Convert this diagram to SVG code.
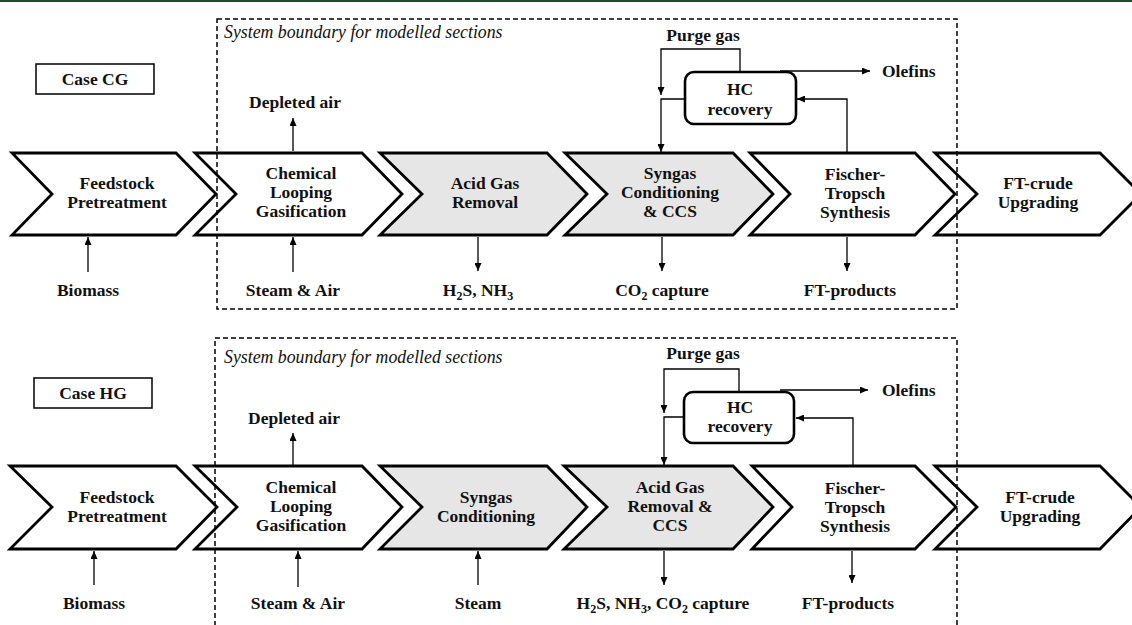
<svg xmlns="http://www.w3.org/2000/svg" width="1132" height="625" viewBox="0 0 1132 625">
<defs>
<marker id="ah" markerUnits="userSpaceOnUse" markerWidth="8" markerHeight="7" refX="8" refY="3.5" orient="auto">
<path d="M0,0 L8,3.5 L0,7 z" fill="#000"/>
</marker>
<style>
.chev{fill:#fff;stroke:#000;stroke-width:2.8;stroke-linejoin:miter}
.grey{fill:#e6e6e6}
.t{font-family:"Liberation Serif","Times New Roman",serif;font-weight:bold;font-size:17.5px;fill:#111;text-anchor:middle}
.ts{text-anchor:start}
.it{font-family:"Liberation Serif","Times New Roman",serif;font-style:italic;font-size:17.8px;fill:#111}
.bound{fill:none;stroke:#000;stroke-width:1.5;stroke-dasharray:5,3}
.case{fill:#fff;stroke:#000;stroke-width:1.5}
.hc{fill:#fff;stroke:#000;stroke-width:2.6}
.c{fill:none;stroke:#000;stroke-width:1.3;marker-end:url(#ah)}
.l{fill:none;stroke:#000;stroke-width:1.3}
</style>
</defs>
<rect x="0" y="0" width="1132" height="2" fill="#1b4d2b"/>
<rect width="1132" height="625" y="2" fill="#fff"/>

<!-- Top row: Case CG -->
<g id="caseCG"><rect class="case" x="36" y="64" width="118" height="30"/><text class="t" x="95" y="85">Case CG</text></g>
<g id="cg-feed"><polygon class="chev" points="12,153 176,153 216,194 176,235 12,235 52,194"/><text class="t" x="117" y="189">Feedstock</text><text class="t" x="117" y="208">Pretreatment</text></g>
<g id="cg-clg"><polygon class="chev" points="195,153 362,153 402,194 362,235 195,235 236,194"/><text class="t" x="301" y="179">Chemical</text><text class="t" x="301" y="198">Looping</text><text class="t" x="301" y="217">Gasification</text></g>
<g id="cg-agr"><polygon class="chev grey" points="380,153 547,153 587,194 547,235 380,235 422,194"/><text class="t" x="485" y="189">Acid Gas</text><text class="t" x="485" y="208">Removal</text></g>
<g id="cg-syn"><polygon class="chev grey" points="565,153 733,153 773,194 733,235 565,235 607,194"/><text class="t" x="670" y="179">Syngas</text><text class="t" x="670" y="198">Conditioning</text><text class="t" x="670" y="217">&amp; CCS</text></g>
<g id="cg-ft"><polygon class="chev" points="750,153 915,153 955,194 915,235 750,235 790,194"/><text class="t" x="855" y="180">Fischer-</text><text class="t" x="855" y="199">Tropsch</text><text class="t" x="855" y="218">Synthesis</text></g>
<g id="cg-up"><polygon class="chev" points="935,153 1100,153 1141,194 1100,235 935,235 977,194"/><text class="t" x="1038" y="189">FT-crude</text><text class="t" x="1038" y="208">Upgrading</text></g>
<g id="cg-hc"><rect class="hc" x="685" y="72" width="111" height="52" rx="9"/><text class="t" x="740" y="95">HC</text><text class="t" x="740" y="115">recovery</text></g>
<g id="cg-boundary"><rect class="bound" x="217" y="19" width="740" height="290"/><text class="it" x="224" y="38">System boundary for modelled sections</text></g>
<g id="cg-labels">
<text class="t" x="295" y="108">Depleted air</text>
<text class="t" x="88" y="296">Biomass</text>
<text class="t" x="293" y="296">Steam &amp; Air</text>
<text class="t" x="478" y="296">H<tspan font-size="12" dy="4">2</tspan><tspan dy="-4">S, NH</tspan><tspan font-size="12" dy="4">3</tspan></text>
<text class="t" x="662" y="296">CO<tspan font-size="12" dy="4">2</tspan><tspan dy="-4"> capture</tspan></text>
<text class="t" x="850" y="296">FT-products</text>
<text class="t" x="703" y="41">Purge gas</text>
<text class="t ts" x="882" y="77">Olefins</text>
</g>
<g id="cg-connectors">
<path class="c" d="M293,151 V118"/>
<path class="c" d="M88,272 V237"/>
<path class="c" d="M293,272 V237"/>
<path class="c" d="M478,237 V271"/>
<path class="c" d="M662,237 V271"/>
<path class="c" d="M847,237 V271"/>
<path class="c" d="M740,72 V49 H661 V95"/>
<path class="c" d="M685,99 H661 V152"/>
<path class="c" d="M847,152 V99 H797"/>
<path class="c" d="M780,71 H870"/>
</g>

<!-- Bottom row: Case HG -->
<g id="caseHG"><rect class="case" x="34" y="378" width="118" height="30"/><text class="t" x="93" y="399">Case HG</text></g>
<g id="hg-feed"><polygon class="chev" points="10,466 176,466 217,507 176,549 10,549 52,507"/><text class="t" x="117" y="503">Feedstock</text><text class="t" x="117" y="522">Pretreatment</text></g>
<g id="hg-clg"><polygon class="chev" points="195,466 362,466 402,507 362,549 195,549 237,507"/><text class="t" x="301" y="493">Chemical</text><text class="t" x="301" y="512">Looping</text><text class="t" x="301" y="531">Gasification</text></g>
<g id="hg-syn"><polygon class="chev grey" points="380,466 547,466 587,507 547,549 380,549 422,507"/><text class="t" x="486" y="503">Syngas</text><text class="t" x="486" y="522">Conditioning</text></g>
<g id="hg-agr"><polygon class="chev grey" points="564,466 733,466 773,507 733,549 564,549 607,507"/><text class="t" x="670" y="493">Acid Gas</text><text class="t" x="670" y="512">Removal &amp;</text><text class="t" x="670" y="531">CCS</text></g>
<g id="hg-ft"><polygon class="chev" points="752,466 915,466 956,507 915,549 752,549 792,507"/><text class="t" x="855" y="494">Fischer-</text><text class="t" x="855" y="513">Tropsch</text><text class="t" x="855" y="532">Synthesis</text></g>
<g id="hg-up"><polygon class="chev" points="935,466 1100,466 1141,507 1100,549 935,549 977,507"/><text class="t" x="1040" y="503">FT-crude</text><text class="t" x="1040" y="522">Upgrading</text></g>
<g id="hg-hc"><rect class="hc" x="684" y="392" width="110" height="51" rx="9"/><text class="t" x="740" y="413">HC</text><text class="t" x="740" y="432">recovery</text></g>
<g id="hg-boundary"><rect class="bound" x="215" y="338" width="742" height="310"/><text class="it" x="224" y="363">System boundary for modelled sections</text></g>
<g id="hg-labels">
<text class="t" x="294" y="424">Depleted air</text>
<text class="t" x="94" y="609">Biomass</text>
<text class="t" x="298" y="609">Steam &amp; Air</text>
<text class="t" x="478" y="609">Steam</text>
<text class="t" x="663" y="609">H<tspan font-size="12" dy="4">2</tspan><tspan dy="-4">S, NH</tspan><tspan font-size="12" dy="4">3</tspan><tspan dy="-4">, CO</tspan><tspan font-size="12" dy="4">2</tspan><tspan dy="-4"> capture</tspan></text>
<text class="t" x="848" y="609">FT-products</text>
<text class="t" x="703" y="359">Purge gas</text>
<text class="t ts" x="882" y="396">Olefins</text>
</g>
<g id="hg-connectors">
<path class="c" d="M293,465 V433"/>
<path class="c" d="M94,585 V551"/>
<path class="c" d="M298,587 V551"/>
<path class="c" d="M478,585 V551"/>
<path class="c" d="M664,551 V585"/>
<path class="c" d="M852,551 V583"/>
<path class="c" d="M739,392 V369 H664 V413"/>
<path class="c" d="M684,417 H664 V465"/>
<path class="c" d="M853,465 V418 H796"/>
<path class="c" d="M780,390 H868"/>
</g>
</svg>
